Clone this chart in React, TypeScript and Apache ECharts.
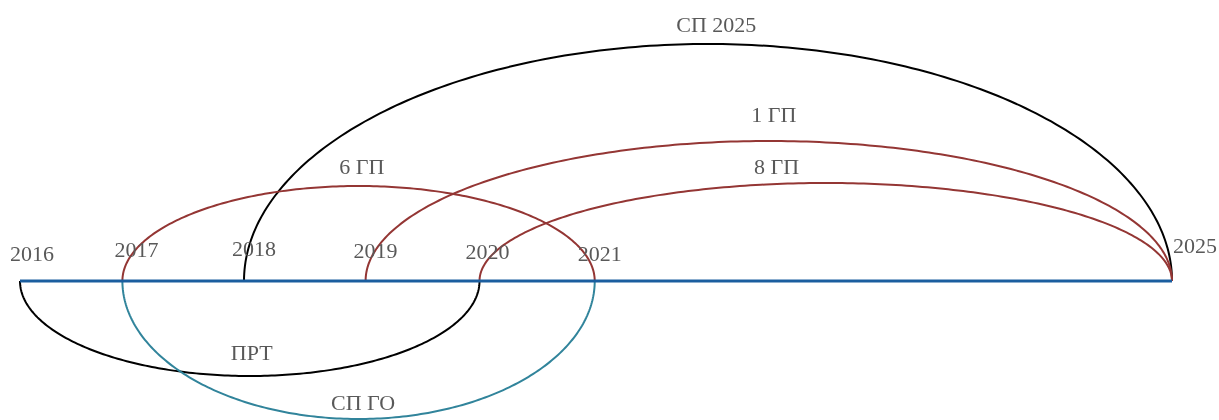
import React, { useEffect, useRef } from "react";
import * as echarts from "echarts";

// Timeline points (axis positions in years) and their tick labels
const years = ["2016", "2017", "2018", "2019", "2020", "2021", "2025"];
const yearPos = [2016, 2016.8, 2017.75, 2018.7, 2019.59, 2020.49, 2025];

// Arcs: name, start, end, height (positive = above, negative = below), label anchor
const arcNames = ["СП 2025", "1 ГП", "8 ГП", "6 ГП", "ПРТ", "СП ГО"];
const arcStart = [2017.75, 2018.7, 2019.59, 2016.8, 2016, 2016.8];
const arcEnd = [2025, 2025, 2025, 2020.49, 2019.59, 2020.49];
const arcHeight = [237, 140, 98, 95, -95, -138];
const arcLabelX = [2021.44, 2021.89, 2021.91, 2018.67, 2017.81, 2018.68];
const arcLabelY = [257, 167, 115, 115, -71, -121];

const BLACK = "#000000";
const RED = "#943634";
const TEAL = "#31849B";
const arcColors = [BLACK, RED, RED, RED, BLACK, TEAL];
const TEXT = "#595959";
const FONT = "Liberation Serif";
// pixel offsets of the year labels from their points (layout only)
const yearLabelOffsets = [
  [12, -28],
  [14, -32],
  [10, -33],
  [10, -31],
  [8, -30],
  [5, -28],
  [23, -36],
];

export default function App() {
  const ref = useRef<HTMLDivElement>(null);
  useEffect(() => {
    if (!ref.current) return;
    const chart = echarts.init(ref.current, null, { renderer: "svg" });
    const arcData = arcNames.map((_, i) => [
      arcStart[i],
      arcEnd[i],
      arcHeight[i],
      arcLabelX[i],
      arcLabelY[i],
    ]);
    const option: any = {
      animation: false,
      grid: { left: 20, right: 47, top: 0, bottom: 0 },
      xAxis: { type: "value", min: 2016, max: 2025, show: false },
      yAxis: { type: "value", min: -139, max: 281, show: false },
      series: [
        {
          type: "custom",
          clip: false,
          z: 2,
          data: arcData,
          renderItem: (params: any, api: any) => {
            const i = params.dataIndex;
            const x1 = api.value(0);
            const x2 = api.value(1);
            const h = api.value(2);
            const p1 = api.coord([x1, 0]);
            const p2 = api.coord([x2, 0]);
            const pa = api.coord([(x1 + x2) / 2, h]);
            const pl = api.coord([api.value(3), api.value(4)]);
            const cx = (p1[0] + p2[0]) / 2;
            const cy = p1[1];
            const rx = (p2[0] - p1[0]) / 2;
            const ry = cy - pa[1];
            const pts: number[][] = [];
            const N = 200;
            for (let k = 0; k <= N; k++) {
              const t = Math.PI - (Math.PI * k) / N;
              pts.push([cx + rx * Math.cos(t), cy - ry * Math.sin(t)]);
            }
            return {
              type: "group",
              children: [
                {
                  type: "polyline",
                  shape: { points: pts },
                  style: { stroke: arcColors[i], lineWidth: 2, fill: "none" },
                },
                {
                  type: "text",
                  style: {
                    text: arcNames[i],
                    x: pl[0],
                    y: pl[1],
                    fill: TEXT,
                    fontSize: 22,
                    fontFamily: FONT,
                    align: "center",
                    verticalAlign: "middle",
                  },
                },
              ],
            };
          },
        },
        {
          type: "line",
          z: 3,
          symbol: "none",
          data: [
            [yearPos[0], 0],
            [yearPos[yearPos.length - 1], 0],
          ],
          lineStyle: { color: "#1B5E9F", width: 3, cap: "butt" },
        },
        {
          type: "scatter",
          z: 4,
          symbolSize: 0,
          itemStyle: { opacity: 1 },
          data: yearPos.map((p, i) => ({
            value: [p, 0],
            label: { offset: yearLabelOffsets[i] },
          })),
          label: {
            show: true,
            position: "inside",
            formatter: (p: any) => years[p.dataIndex],
            color: TEXT,
            opacity: 1,
            fontSize: 22,
            fontFamily: FONT,
            align: "center",
            verticalAlign: "middle",
          },
        },
      ],
    };
    chart.setOption(option);
    return () => chart.dispose();
  }, []);
  return (
    <div
      ref={ref}
      style={{ position: "fixed", left: 0, top: 0, width: 1219, height: 420 }}
    />
  );
}
